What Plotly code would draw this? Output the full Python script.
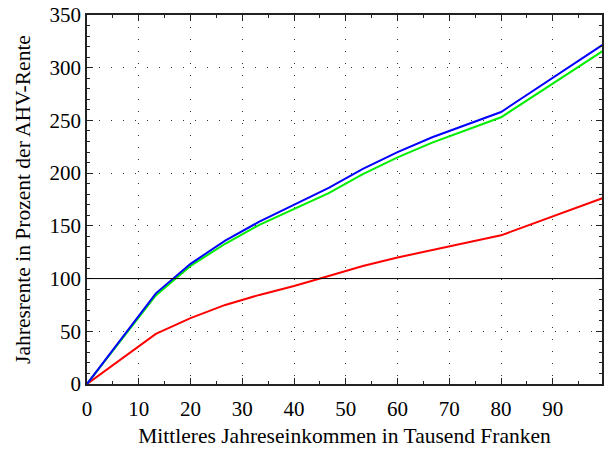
import plotly.graph_objects as go

# Mittleres Jahreseinkommen (Tausend Franken)
einkommen = [0, 13.3, 20, 26.7, 33.3, 40, 46.7, 53.3, 60, 66.7, 73.3, 80, 100]

# Jahresrente in Prozent der AHV-Rente
rente_blau = [0, 86, 114, 136, 154, 170, 186, 204, 220, 234, 246, 258, 323]
rente_gruen = [0, 84, 112, 133, 151, 166, 181, 199, 215, 229, 241, 253, 317]
rente_rot = [0, 47.5, 62.5, 75, 84.5, 93, 102.5, 112, 120, 127, 134, 141, 177]

referenz_linie = 100

x_ticks = [0, 10, 20, 30, 40, 50, 60, 70, 80, 90]
y_ticks = [0, 50, 100, 150, 200, 250, 300, 350]

serif = "Liberation Serif, Times New Roman, serif"

fig = go.Figure()
for werte, farbe in [(rente_rot, "#ff0000"), (rente_gruen, "#00ee00"), (rente_blau, "#0000ff")]:
    fig.add_trace(go.Scatter(x=einkommen, y=werte, mode="lines",
                             line=dict(color=farbe, width=2), showlegend=False))

fig.add_shape(type="line", xref="paper", yref="y", x0=0, x1=1,
              y0=referenz_linie, y1=referenz_linie,
              line=dict(color="black", width=1))

achse = dict(
    showline=True, linecolor="#222", linewidth=1.5, mirror="allticks",
    ticks="inside", ticklen=6, tickcolor="#222", tickwidth=1,
    showgrid=True, gridcolor="#333", gridwidth=1, griddash="1px,11px",
    zeroline=False,
    tickfont=dict(family=serif, size=21, color="black"),
)

fig.update_xaxes(
    **achse, range=[0, 99.5], tickvals=x_ticks, ticklabelstandoff=5,
    minor=dict(dtick=5, ticks="inside", ticklen=3, tickcolor="#222", showgrid=False),
    title=dict(text="Mittleres Jahreseinkommen in Tausend Franken",
               font=dict(family=serif, size=21.5, color="black"), standoff=8),
)
fig.update_yaxes(
    **achse, range=[0, 350], tickvals=y_ticks,
    minor=dict(dtick=10, ticks="inside", ticklen=3, tickcolor="#222", showgrid=False),
    title=dict(text="Jahresrente in Prozent der AHV-Rente",
               font=dict(family=serif, size=21.5, color="black"), standoff=13),
)

fig.update_layout(
    width=607, height=451,
    margin=dict(l=87, r=3, t=14, b=67),
    plot_bgcolor="white", paper_bgcolor="white",
)

fig.write_html("out.html")
